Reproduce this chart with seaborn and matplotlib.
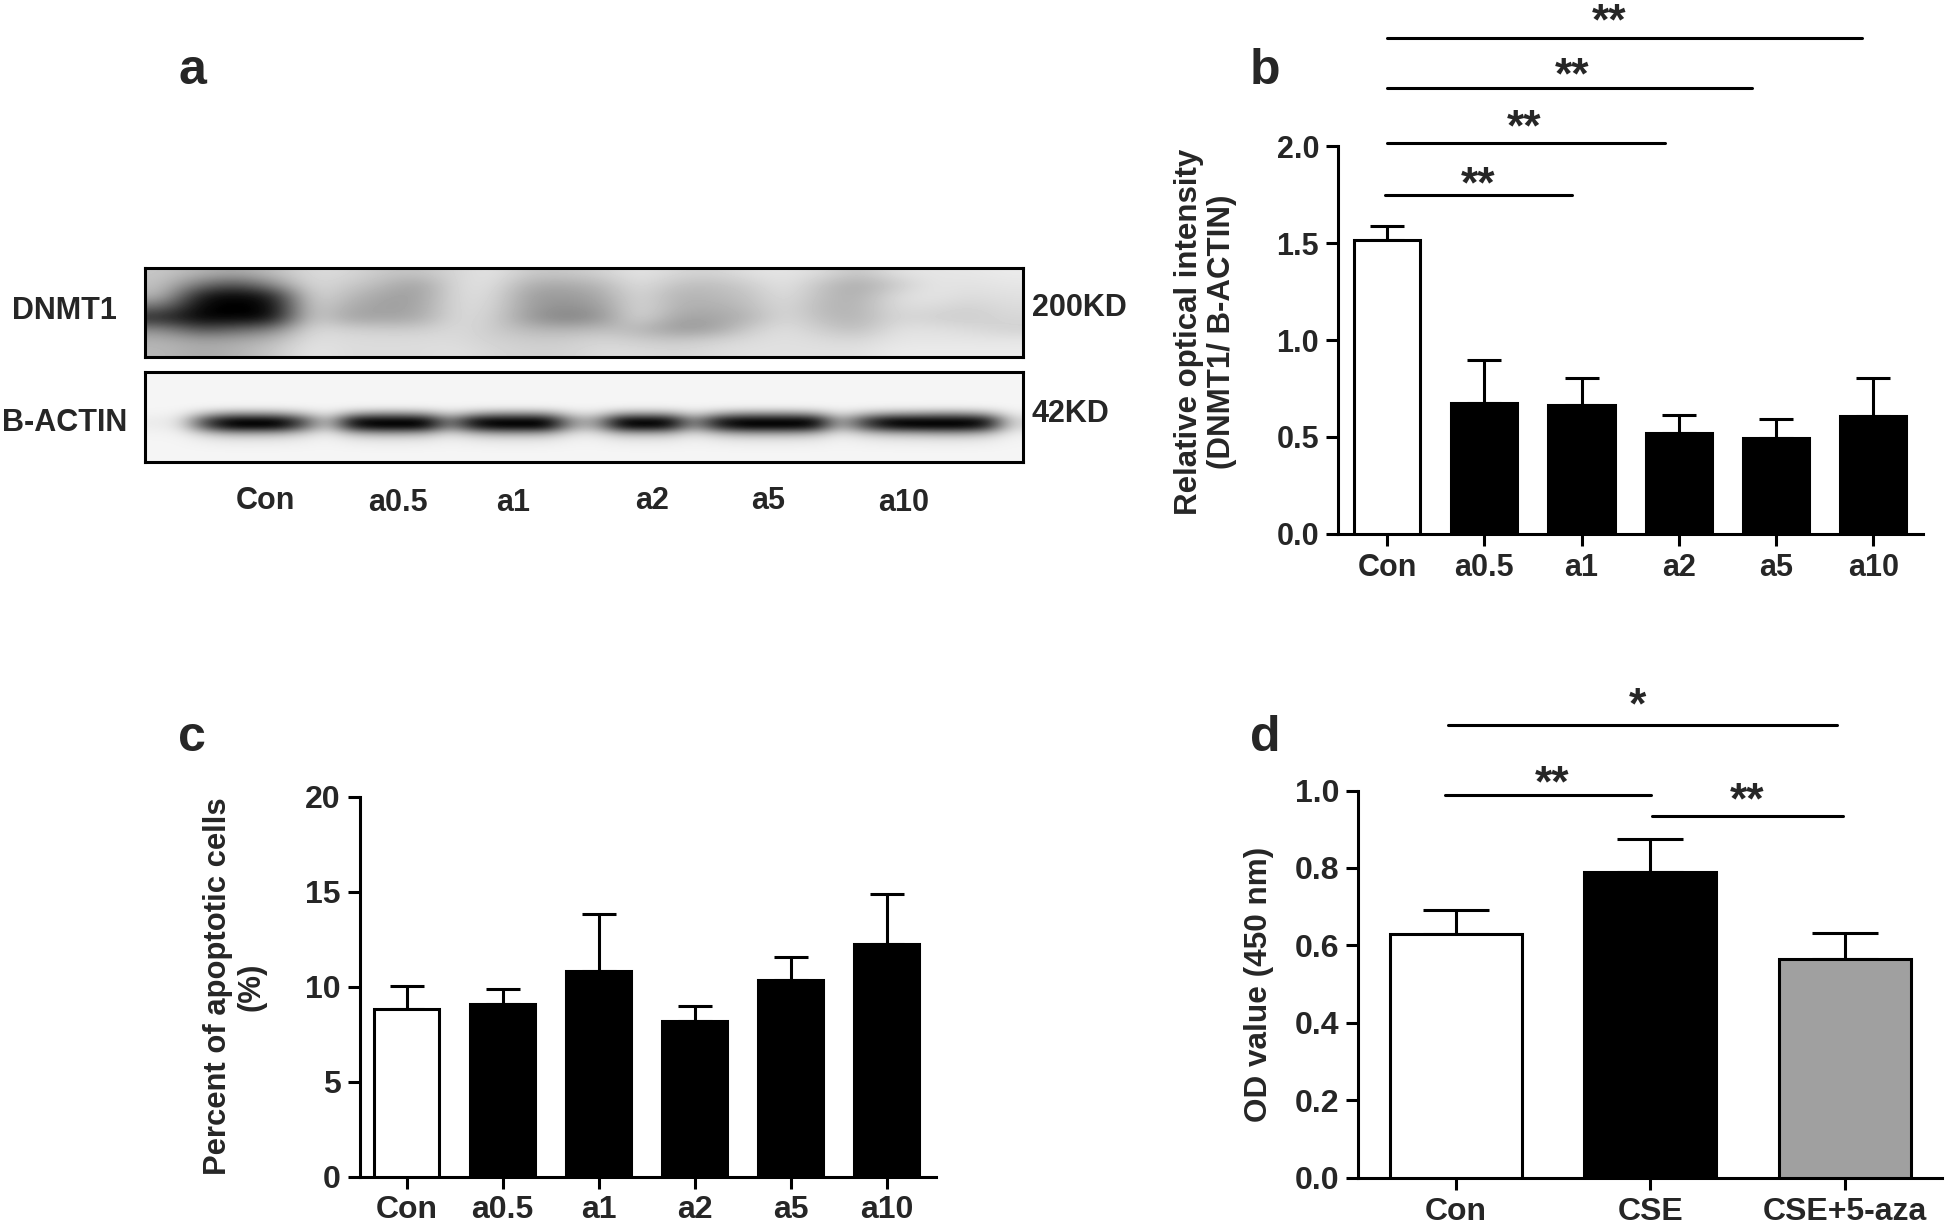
import matplotlib
matplotlib.use("Agg")
import matplotlib.pyplot as plt
import numpy as np
import pandas as pd
import seaborn as sns

W, H = 1946, 1222

# panel b
doses = ["Con", "a0.5", "a1", "a2", "a5", "a10"]
b_values = [1.518, 0.675, 0.665, 0.522, 0.492, 0.607]
b_err_top = [1.587, 0.895, 0.804, 0.613, 0.593, 0.806]
b_ticks = [0.0, 0.5, 1.0, 1.5, 2.0]
b_brackets = [(-0.02, 1.9, 1.75), (0.0, 2.86, 2.02), (0.0, 3.75, 2.302), (0.0, 4.88, 2.562)]
b_stars = [("**", 0.94, 1.871), ("**", 1.41, 2.165), ("**", 1.90, 2.437), ("**", 2.28, 2.714)]

# panel c
c_values = [8.82, 9.09, 10.8, 8.19, 10.33, 12.23]
c_err_top = [10.05, 9.86, 13.84, 9.0, 11.56, 14.89]
c_ticks = [0, 5, 10, 15, 20]

# panel d
d_groups = ["Con", "CSE", "CSE+5-aza"]
d_values = [0.63, 0.79, 0.565]
d_err_top = [0.692, 0.876, 0.633]
d_ticks = [0.0, 0.2, 0.4, 0.6, 0.8, 1.0]
d_brackets = [(-0.04, 1.96, 1.168), (-0.055, 1.005, 0.989), (1.01, 1.99, 0.935)]
d_stars = [("*", 0.933, 1.255), ("**", 0.495, 1.054), ("**", 1.50, 1.009)]

# panel a, blot darkness (0 white, 1 black)
dnmt1_blot = [
    [.22, .30, .35, .26, .14, .15, .22, .24, .16, .10, .22, .22, .18, .10, .16, .18, .12, .10, .14, .24, .12, .10, .10, .08],
    [.24, .55, .70, .45, .14, .20, .28, .38, .14, .12, .32, .34, .28, .12, .24, .26, .20, .10, .24, .34, .22, .10, .12, .10],
    [.28, .92, 1.0, .90, .14, .26, .36, .38, .14, .14, .38, .40, .34, .14, .30, .28, .24, .12, .26, .32, .14, .10, .14, .12],
    [.55, 1.0, 1.0, 1.0, .16, .32, .38, .36, .14, .16, .38, .44, .38, .14, .30, .32, .26, .14, .28, .30, .14, .14, .18, .14],
    [.85, 1.0, 1.0, .98, .16, .36, .36, .34, .14, .18, .40, .50, .42, .14, .36, .36, .30, .14, .26, .30, .16, .18, .20, .16],
    [.45, .70, .60, .50, .14, .18, .20, .20, .14, .20, .28, .30, .26, .28, .40, .38, .20, .12, .20, .26, .12, .12, .14, .18],
    [.30, .36, .34, .28, .12, .14, .14, .14, .14, .18, .20, .20, .16, .20, .22, .18, .14, .12, .14, .16, .10, .10, .10, .10],
    [.28, .34, .30, .22, .10, .14, .14, .14, .12, .16, .18, .18, .14, .14, .16, .14, .12, .12, .12, .12, .08, .08, .08, .08],
]
actin_lane = [.03, .06, .60, .95, .95, .90, .55, .12, .80, 1.0, 1.0, .90, .35, .80, 1.0, 1.0, .95, .30,
              .25, .85, .90, .85, .30, .75, 1.0, 1.0, 1.0, .85, .20, .60, .85, .90, 1.0, 1.0, .80, .10]
actin_faint = [.05]
actin_rows = [.0, .0, .0, .0, .0, .02, .35, 1.0, .92, .30, .07, .02, .0, .0]
lane_labels = [("Con", 265.5, 501), ("a0.5", 398, 503), ("a1", 513.4, 503), ("a2", 652, 501), ("a5", 768.6, 501), ("a10", 904, 503)]

sns.set_theme(style="ticks")
plt.rcParams["font.family"] = ["Liberation Sans", "DejaVu Sans"]
plt.rcParams["font.weight"] = "bold"
plt.rcParams["axes.labelweight"] = "bold"

LW = 2.2


def add_axes_px(fig, left, right, top, bottom):
    return fig.add_axes([left / W, 1 - bottom / H, (right - left) / W, (bottom - top) / H])


def fig_text(fig, x, y, s, **kw):
    fig.text(x / W, 1 - y / H, s, **kw)


def bar_panel(ax, names, values, err_top, colors, yticks, ymax, xlim, capsize, fontsize, width=0.68):
    df = pd.DataFrame({"group": names, "value": values})
    sns.barplot(data=df, x="group", y="value", hue="group", palette=colors, legend=False,
                edgecolor="black", linewidth=LW, width=width, errorbar=None, saturation=1,
                zorder=3, ax=ax)
    upper = np.array(err_top) - np.array(values)
    ax.errorbar(range(len(names)), values, yerr=[np.zeros(len(names)), upper], fmt="none",
                ecolor="black", elinewidth=LW, capsize=capsize, capthick=LW, zorder=2)
    ax.set_xlim(*xlim)
    ax.set_ylim(0, ymax)
    ax.set_yticks(yticks)
    ax.set_xlabel("")
    ax.tick_params(axis="both", length=8.6, width=LW, labelsize=fontsize, color="black", pad=5)
    for name in ["left", "bottom"]:
        ax.spines[name].set_linewidth(LW)
        ax.spines[name].set_color("black")
    sns.despine(ax=ax)


def add_brackets(ax, brackets, stars):
    for x0, x1, y in brackets:
        ax.plot([x0, x1], [y, y], color="black", lw=LW, clip_on=False, solid_capstyle="round", zorder=4)
    for s, x, y in stars:
        ax.annotate(s, (x, y), xytext=(0, -19), textcoords="offset points", ha="center", va="baseline",
                    fontsize=32, annotation_clip=False)


def blot_axes(fig, top, bottom, image):
    ax = add_axes_px(fig, 145, 1023, top, bottom)
    ax.imshow(image, cmap="gray_r", vmin=0, vmax=1, aspect="auto", interpolation="bicubic")
    ax.set_xticks([])
    ax.set_yticks([])
    for spine in ax.spines.values():
        spine.set_linewidth(LW)
        spine.set_color("black")
    return ax


fig = plt.figure(figsize=(W / 100, H / 100), dpi=100)

# a
blot_axes(fig, 268.3, 357.3, np.array(dnmt1_blot))
actin = np.clip(np.outer(actin_rows, actin_lane) * 1.15 + 0.04, 0, 1)
blot_axes(fig, 372.3, 461.7, actin)
fig_text(fig, 64.5, 311, "DNMT1", fontsize=22, ha="center", va="center")
fig_text(fig, 64.5, 423, "B-ACTIN", fontsize=22, ha="center", va="center")
fig_text(fig, 1032, 308, "200KD", fontsize=22, ha="left", va="center")
fig_text(fig, 1032, 414, "42KD", fontsize=22, ha="left", va="center")
for label, x, y in lane_labels:
    fig_text(fig, x, y, label, fontsize=22, ha="center", va="center")

# b
ax_b = add_axes_px(fig, 1338, 1923, 146.4, 533.7)
bar_panel(ax_b, doses, b_values, b_err_top, ["white"] + ["black"] * 5, b_ticks, 2.0, (-0.504, 5.51), 12, 22)
ax_b.set_yticklabels([f"{t:.1f}" for t in b_ticks])
add_brackets(ax_b, b_brackets, b_stars)
ax_b.set_ylabel("Relative optical intensity\n(DNMT1/ B-ACTIN)", fontsize=22.5, linespacing=1.15)
ax_b.yaxis.set_label_coords((1237 - 1338) / (1923 - 1338), 0.52)

# c
ax_c = add_axes_px(fig, 359.6, 935.8, 796.8, 1176.5)
bar_panel(ax_c, doses, c_values, c_err_top, ["white"] + ["black"] * 5, c_ticks, 20, (-0.49, 5.51), 12, 23)
ax_c.set_ylabel("Percent of apoptotic cells\n(%)", fontsize=22.3, linespacing=1.15)
ax_c.yaxis.set_label_coords((266 - 359.6) / (935.8 - 359.6), 0.5)

# d
ax_d = add_axes_px(fig, 1358.4, 1942, 790.5, 1177.8)
bar_panel(ax_d, d_groups, d_values, d_err_top, ["white", "black", "#a0a0a0"], d_ticks, 1.0, (-0.5, 2.5), 24, 23)
ax_d.set_yticklabels([f"{t:.1f}" for t in d_ticks])
add_brackets(ax_d, d_brackets, d_stars)
ax_d.set_ylabel("OD value (450 nm)", fontsize=22.7)
ax_d.yaxis.set_label_coords((1274 - 1358.4) / (1942 - 1358.4), 0.5)

for letter, x, y in [("a", 192, 71), ("b", 1265, 71), ("c", 192, 738), ("d", 1265, 738)]:
    fig_text(fig, x, y, letter, fontsize=36, ha="center", va="center")

fig.savefig("out.png", dpi=100, facecolor="white")
